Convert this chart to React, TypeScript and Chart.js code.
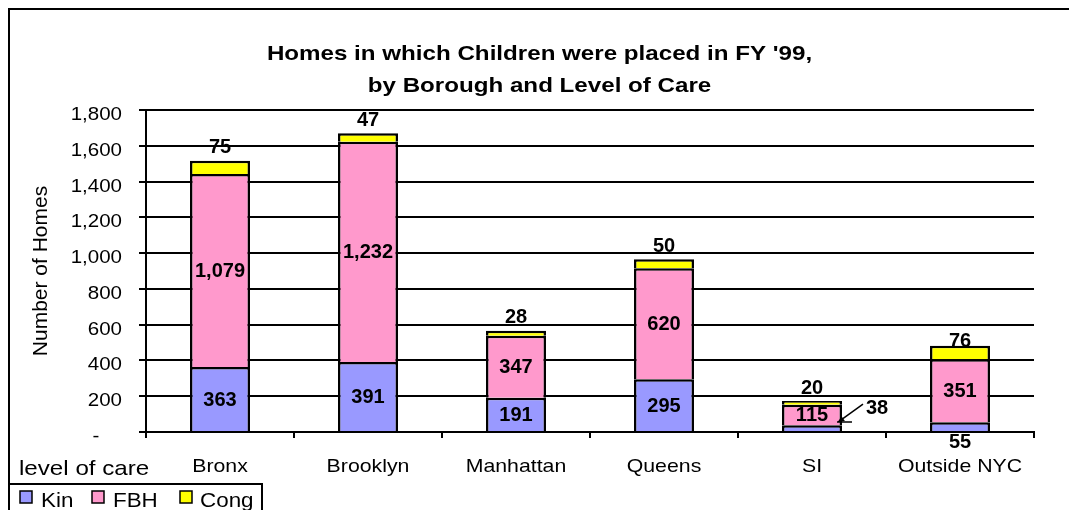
import { useEffect, useRef } from "react";
import { Chart, registerables } from "chart.js";

Chart.register(...registerables);

const categories = ["Bronx", "Brooklyn", "Manhattan", "Queens", "SI", "Outside NYC"];
const seriesNames = ["Kin", "FBH", "Cong"];
const kin = [363, 391, 191, 295, 38, 55];
const fbh = [1079, 1232, 347, 620, 115, 351];
const cong = [75, 47, 28, 50, 20, 76];
const yTickValues = [0, 200, 400, 600, 800, 1000, 1200, 1400, 1600, 1800];
const titleLines = ["Homes in which Children were placed in FY '99,", "by Borough and Level of Care"];
const yAxisTitle = "Number of Homes";
const xAxisTitle = "level of care";

const COLORS = ["#9999FF", "#FF99CC", "#FFFF00"];
const FONT = "'Liberation Sans', Arial, sans-serif";
const W = 1061;
const H = 502;

function stext(ctx: CanvasRenderingContext2D, text: string, x: number, y: number, font: string, align: CanvasTextAlign, sx: number, baseline: CanvasTextBaseline = "alphabetic") {
  ctx.save();
  ctx.translate(x, y);
  ctx.scale(sx, 1);
  ctx.font = font;
  ctx.textAlign = align;
  ctx.textBaseline = baseline;
  ctx.fillStyle = "#000";
  ctx.fillText(text, 0, 0);
  ctx.restore();
}

const fmt = (v: number) => v.toLocaleString("en-US");

const decorPlugin = {
  id: "decor",
  afterDraw(chart: any) {
    const ctx: CanvasRenderingContext2D = chart.ctx;
    const area = chart.chartArea;
    const xs = chart.scales.x;
    const ys = chart.scales.y;
    ctx.save();
    // outer frame
    ctx.fillStyle = "#000";
    ctx.fillRect(0, 0, W, 2);
    ctx.fillRect(0, 0, 2, H);

    // title
    stext(ctx, titleLines[0], W / 2 + 1, 51.5, `bold 21px ${FONT}`, "center", 1.15);
    stext(ctx, titleLines[1], W / 2 + 1, 83.5, `bold 21px ${FONT}`, "center", 1.15);

    // y tick labels
    for (const v of yTickValues) {
      const y = ys.getPixelForValue(v);
      if (v === 0) {
        stext(ctx, "-", area.left - 50, y + 10, `19px ${FONT}`, "center", 1.08);
      } else {
        stext(ctx, fmt(v), area.left - 24, y + 10, `19px ${FONT}`, "right", 1.08);
      }
    }

    // y axis title
    ctx.save();
    ctx.translate(33, (area.top + area.bottom) / 2);
    ctx.rotate(-Math.PI / 2);
    ctx.font = `21px ${FONT}`;
    ctx.textAlign = "center";
    ctx.textBaseline = "middle";
    ctx.fillStyle = "#000";
    ctx.fillText(yAxisTitle, 0, 0);
    ctx.restore();

    // x labels
    categories.forEach((c, i) => {
      stext(ctx, c, xs.getPixelForValue(i), area.bottom + 40, `19px ${FONT}`, "center", 1.12);
    });
    stext(ctx, xAxisTitle, 11, area.bottom + 43, `21px ${FONT}`, "left", 1.15);

    // legend box
    ctx.strokeStyle = "#000";
    ctx.lineWidth = 2;
    ctx.beginPath();
    ctx.moveTo(0, 476);
    ctx.lineTo(254, 476);
    ctx.lineTo(254, H);
    ctx.stroke();
    const legendMarkX = [12, 84, 172];
    const legendTextX = [33, 105, 192];
    seriesNames.forEach((n, i) => {
      ctx.fillStyle = COLORS[i];
      ctx.fillRect(legendMarkX[i], 483, 12, 12);
      ctx.lineWidth = 1.5;
      ctx.strokeStyle = "#000";
      ctx.strokeRect(legendMarkX[i], 483, 12, 12);
      stext(ctx, n, legendTextX[i], 499, `20px ${FONT}`, "left", 1.12);
    });

    // data labels
    const lf = `bold 20px ${FONT}`;
    const kinMeta = chart.getDatasetMeta(0);
    const fbhMeta = chart.getDatasetMeta(1);
    const congMeta = chart.getDatasetMeta(2);
    kin.forEach((v, i) => {
      const b = kinMeta.data[i];
      const cy = (b.y + b.base) / 2;
      if (i === 4) {
        const xr = b.x + b.width / 2;
        stext(ctx, fmt(v), xr + 35, cy - 20, lf, "center", 1, "middle");
        ctx.strokeStyle = "#000";
        ctx.lineWidth = 1.5;
        ctx.beginPath();
        ctx.moveTo(xr + 21, cy - 24);
        ctx.lineTo(xr - 4, cy - 6);
        ctx.moveTo(xr - 5, cy - 6);
        ctx.lineTo(xr + 10, cy - 6);
        ctx.stroke();
        // arrow head
        const ang = Math.atan2(-6 - -24, -4 - 21);
        ctx.fillStyle = "#000";
        ctx.beginPath();
        ctx.moveTo(xr - 4, cy - 6);
        ctx.lineTo(xr - 4 - 7 * Math.cos(ang - 0.45), cy - 6 - 7 * Math.sin(ang - 0.45));
        ctx.lineTo(xr - 4 - 7 * Math.cos(ang + 0.45), cy - 6 - 7 * Math.sin(ang + 0.45));
        ctx.closePath();
        ctx.fill();
      } else if (i === 5) {
        stext(ctx, fmt(v), b.x, b.base + 11, lf, "center", 1, "middle");
      } else {
        stext(ctx, fmt(v), b.x, cy + 1, lf, "center", 1, "middle");
      }
    });
    fbh.forEach((v, i) => {
      const b = fbhMeta.data[i];
      stext(ctx, fmt(v), b.x, (b.y + b.base) / 2 + 1, lf, "center", 1, "middle");
    });
    cong.forEach((v, i) => {
      const b = congMeta.data[i];
      const lift = i === 5 ? 4 : 13;
      stext(ctx, fmt(v), b.x, b.y - lift, lf, "center", 1, "middle");
    });
    ctx.restore();
  },
};

export default function App() {
  const ref = useRef<HTMLCanvasElement | null>(null);
  useEffect(() => {
    if (!ref.current) return;
    const datasets = [kin, fbh, cong].map((d, i) => ({
      label: seriesNames[i],
      data: d,
      backgroundColor: COLORS[i],
      borderColor: "#000",
      borderWidth: 2.5,
      barPercentage: 0.4054,
      categoryPercentage: 1,
    }));
    const chart = new Chart(ref.current, {
      type: "bar",
      data: { labels: categories, datasets },
      options: {
        animation: false,
        responsive: false,
        layout: { padding: { left: 0, right: 35, top: 102, bottom: 0 } },
        plugins: {
          legend: { display: false },
          title: { display: false },
          tooltip: { enabled: false },
        },
        scales: {
          x: {
            stacked: true,
            grid: { display: true, drawOnChartArea: false, drawTicks: true, tickLength: 6, color: "#000", lineWidth: 2, offset: true },
            border: { display: true, color: "#000", width: 2 },
            ticks: { display: false },
            afterFit: (s: any) => { s.height = 78; },
          },
          y: {
            stacked: true,
            min: 0,
            max: 1800,
            grid: { color: "#000", lineWidth: 2, tickLength: 7, drawTicks: true },
            border: { display: true, color: "#000", width: 2 },
            ticks: { display: false, stepSize: 200 },
            afterFit: (s: any) => { s.width = 138; },
            afterBuildTicks: (s: any) => { s.ticks = yTickValues.map((v) => ({ value: v })); },
          },
        },
      } as any,
      plugins: [decorPlugin],
    });
    return () => chart.destroy();
  }, []);
  return (
    <div style={{ position: "fixed", left: 8, top: 8, width: W, height: H, background: "#fff" }}>
      <canvas ref={ref} width={W} height={H} style={{ display: "block" }} />
    </div>
  );
}
